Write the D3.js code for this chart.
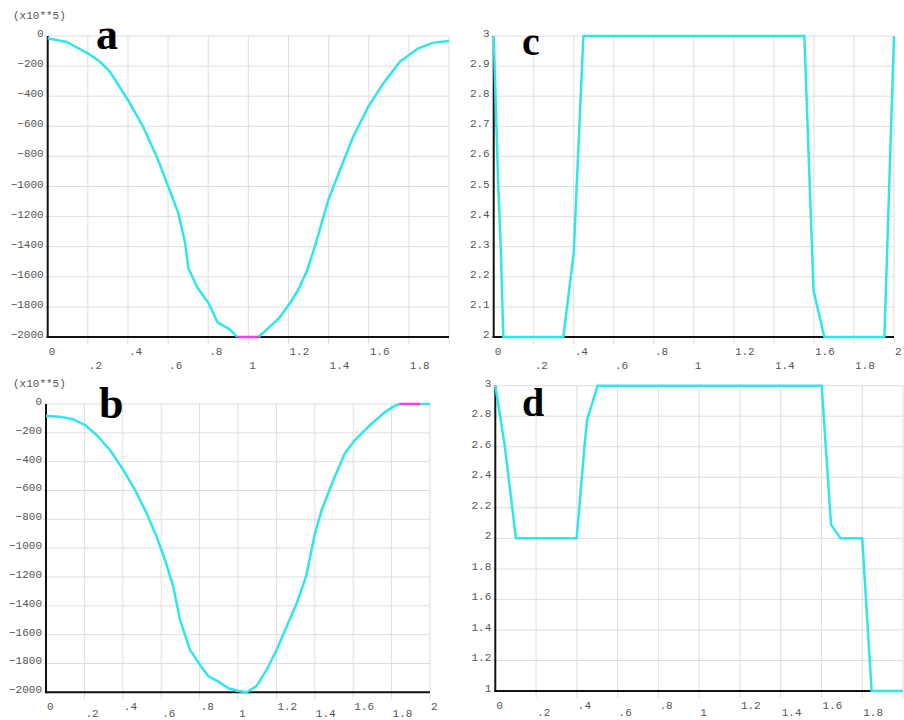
<!DOCTYPE html>
<html>
<head>
<meta charset="utf-8">
<script src="https://cdn.jsdelivr.net/npm/d3@7"></script>
<style>
  html, body { margin: 0; padding: 0; background: #fff; }
  svg { display: block; }
</style>
</head>
<body>
<svg id="chart" width="904" height="720"></svg>
<script>
// ---------------- DATA ----------------
const xTicks = [0, 0.2, 0.4, 0.6, 0.8, 1, 1.2, 1.4, 1.6, 1.8, 2];

const aTicksY = [0, -200, -400, -600, -800, -1000, -1200, -1400, -1600, -1800, -2000];
const aCurve = [
  [0, -15], [0.095, -40], [0.2, -115], [0.26, -170], [0.31, -237], [0.4, -425],
  [0.475, -602], [0.543, -800], [0.601, -1000], [0.651, -1177], [0.685, -1376],
  [0.701, -1542], [0.743, -1664], [0.801, -1774], [0.847, -1903], [0.909, -1951],
  [0.945, -2000]
];
const aCurve2 = [
  [1.05, -2000], [1.091, -1951], [1.154, -1874], [1.208, -1774], [1.249, -1686],
  [1.291, -1564], [1.332, -1398], [1.365, -1243], [1.399, -1088], [1.457, -889],
  [1.523, -668], [1.598, -469], [1.673, -314], [1.756, -170], [1.847, -82],
  [1.922, -44], [2.0, -33]
];
const aClip = [[0.945, -2000], [1.05, -2000]];

const bTicksY = aTicksY;
const bCurve = [
  [0, -83], [0.073, -88], [0.142, -106], [0.203, -146], [0.264, -215], [0.333, -319],
  [0.403, -458], [0.464, -597], [0.524, -758], [0.576, -920], [0.62, -1082],
  [0.663, -1267], [0.698, -1498], [0.75, -1706], [0.802, -1810], [0.845, -1887],
  [0.898, -1926], [0.95, -1972], [1.002, -1991], [1.045, -2000], [1.097, -1956],
  [1.149, -1845], [1.201, -1706], [1.253, -1545], [1.306, -1383], [1.354, -1198],
  [1.401, -897], [1.436, -735], [1.497, -527], [1.557, -342], [1.609, -250],
  [1.688, -146], [1.757, -65], [1.809, -18], [1.839, 0]
];
const bCurve2 = [[1.951, 0], [2.0, 0]];
const bClip = [[1.839, 0], [1.951, 0]];

const cTicksY = [2, 2.1, 2.2, 2.3, 2.4, 2.5, 2.6, 2.7, 2.8, 2.9, 3];
const cCurve = [
  [0, 3], [0.023, 2.5], [0.035, 2.3], [0.048, 2], [0.348, 2], [0.385, 2.2],
  [0.4, 2.28], [0.448, 3], [1.552, 3], [1.598, 2.155], [1.652, 2], [1.952, 2], [2, 3]
];

const dTicksY = [1, 1.2, 1.4, 1.6, 1.8, 2, 2.2, 2.4, 2.6, 2.8, 3];
const dCurve = [
  [0, 3], [0.047, 2.6], [0.101, 2], [0.399, 2], [0.44, 2.64], [0.451, 2.78],
  [0.502, 3], [1.601, 3], [1.647, 2.09], [1.694, 2], [1.8, 2], [1.846, 1], [2, 1]
];

// ---------------- DRAWING ----------------
const svg = d3.select("#chart");
const CYAN = "#2fe6ea";
const MAGENTA = "#f23fe8";
const FONT = "'Liberation Mono', 'DejaVu Sans Mono', monospace";

const fmtX = v => (v === 0 ? "0" : d3.format("~g")(v).replace(/^0\./, "."));
const fmtY = v => d3.format("~g")(v);

function panel(opt) {
  const x = d3.scaleLinear().domain([0, 2]).range([opt.left, opt.right]);
  const y = d3.scaleLinear().domain(opt.yDomain).range([opt.bottom, opt.top]);
  const g = svg.append("g");

  // vertical gridlines (extend slightly below axis)
  g.selectAll(".vg").data(xTicks.slice(1)).enter().append("line")
    .attr("x1", d => x(d)).attr("x2", d => x(d))
    .attr("y1", opt.top).attr("y2", opt.bottom + 7)
    .attr("stroke", "#dedede").attr("stroke-width", 1);
  // horizontal gridlines
  g.selectAll(".hg").data(opt.yTicks).enter().append("line")
    .attr("x1", opt.left - 3).attr("x2", opt.right)
    .attr("y1", d => y(d)).attr("y2", d => y(d))
    .attr("stroke", "#dedede").attr("stroke-width", 1);

  // y tick labels
  g.selectAll(".yl").data(opt.yTicks).enter().append("text")
    .attr("x", opt.left - 4).attr("y", d => y(d) + 1)
    .attr("text-anchor", "end")
    .attr("font-family", FONT).attr("font-size", 11).attr("fill", "#555")
    .text(fmtY);

  // x tick labels in two staggered rows
  g.selectAll(".xl").data(xTicks.filter(t => opt.xLabelMax == null || t <= opt.xLabelMax)).enter().append("text")
    .attr("x", d => x(d) + 1)
    .attr("y", (d, i) => opt.bottom + (i % 2 === 0 ? 18 : opt.row2))
    .attr("font-family", FONT).attr("font-size", 11).attr("fill", "#555")
    .text(fmtX);

  if (opt.unit) {
    g.append("text").attr("x", 13).attr("y", opt.top - 17)
      .attr("font-family", FONT).attr("font-size", 11).attr("fill", "#555")
      .text(opt.unit);
  }

  // axes
  g.append("line").attr("x1", opt.left).attr("x2", opt.left)
    .attr("y1", opt.top).attr("y2", opt.bottom + 1)
    .attr("stroke", "#111").attr("stroke-width", 2);
  g.append("line").attr("x1", opt.left - 1).attr("x2", opt.right)
    .attr("y1", opt.bottom).attr("y2", opt.bottom)
    .attr("stroke", "#111").attr("stroke-width", 2);

  const line = d3.line().x(d => x(d[0])).y(d => y(d[1]));
  opt.curves.forEach(c => {
    g.append("path").attr("d", line(c)).attr("fill", "none")
      .attr("stroke", CYAN).attr("stroke-width", 2.5)
      .attr("stroke-linejoin", "round");
  });
  (opt.clips || []).forEach(c => {
    g.append("path").attr("d", line(c)).attr("fill", "none")
      .attr("stroke", MAGENTA).attr("stroke-width", 2.5);
  });

  g.append("text").attr("x", opt.letterX).attr("y", opt.letterY)
    .attr("font-family", "'Liberation Serif', 'DejaVu Serif', serif")
    .attr("font-weight", "bold").attr("font-size", opt.letterSize).attr("fill", "#000")
    .text(opt.letter);
}

panel({ left: 47.7, right: 449, top: 36, bottom: 337, yDomain: [-2000, 0], yTicks: aTicksY,
  curves: [aCurve, aCurve2], clips: [aClip], unit: "(x10**5)", xLabelMax: 1.8, row2: 32,
  letter: "a", letterX: 96, letterY: 49, letterSize: 44 });
panel({ left: 46, right: 430, top: 404, bottom: 692.3, yDomain: [-2000, 0], yTicks: bTicksY,
  curves: [bCurve, bCurve2], clips: [bClip], unit: "(x10**5)", row2: 25,
  letter: "b", letterX: 99, letterY: 418, letterSize: 44 });
panel({ left: 493.7, right: 894, top: 36, bottom: 337, yDomain: [2, 3], yTicks: cTicksY,
  curves: [cCurve], row2: 32,
  letter: "c", letterX: 522, letterY: 55, letterSize: 40 });
panel({ left: 495.3, right: 903, top: 385.7, bottom: 691, yDomain: [1, 3], yTicks: dTicksY,
  curves: [dCurve], row2: 25, xLabelMax: 1.8,
  letter: "d", letterX: 522, letterY: 416, letterSize: 40 });
</script>
</body>
</html>
